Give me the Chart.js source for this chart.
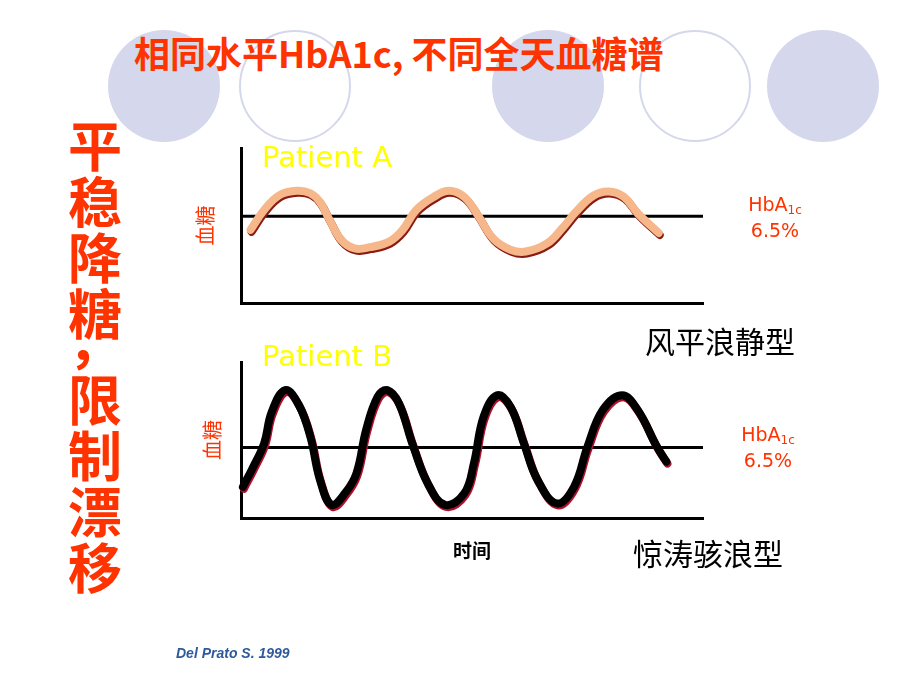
<!DOCTYPE html>
<html>
<head>
<meta charset="utf-8">
<script src="https://cdn.jsdelivr.net/npm/chart.js@4.4.1/dist/chart.umd.min.js"></script>
<style>
html, body { margin: 0; padding: 0; background: #fff; }
#page { position: relative; width: 920px; height: 690px; overflow: hidden; background: #fff; font-family: 'Noto Sans CJK SC', sans-serif; }
.dot { position: absolute; top: 30px; width: 112px; height: 112px; border-radius: 50%; box-sizing: border-box; }
.dot.fill { background: #d5d7ec; }
.dot.ring { border: 2px solid #d5d7ec; }
canvas { position: absolute; left: 0; top: 0; }
.txt { position: absolute; white-space: nowrap; line-height: 1; }
.title { left: 134px; top: 34px; font-size: 36px; font-weight: bold; color: #ff3300; }
.side { left: 68px; top: 116px; width: 56px; font-size: 54px; font-weight: bold; color: #ff3300; }
.side div { height: 56px; line-height: 56px; }
.side div.comma { height: 30px; }
.side div.comma span { position: relative; top: -28px; }
.patient { left: 262px; font-family: 'DejaVu Sans', sans-serif; font-size: 29px; color: #ffff00; }
.hba { width: 80px; text-align: center; font-family: 'DejaVu Sans', sans-serif; font-size: 19px; color: #ff3300; }
.hba sub { font-size: 12px; vertical-align: -3px; }
.kind { font-size: 30px; font-weight: normal; color: #000; }
.cite { left: 176px; top: 646px; font-family: 'Liberation Sans', sans-serif; font-size: 14px; font-weight: bold; font-style: italic; color: #2e5a9c; }
</style>
</head>
<body>
<div id="page">
  <div class="dot fill" style="left:108px"></div>
  <div class="dot ring" style="left:239px"></div>
  <div class="dot fill" style="left:492px"></div>
  <div class="dot ring" style="left:639px"></div>
  <div class="dot fill" style="left:767px"></div>

  <div class="txt title">相同水平HbA1c, 不同全天血糖谱</div>
  <div class="txt side">
    <div>平</div><div>稳</div><div>降</div><div>糖</div><div class="comma"><span>，</span></div><div>限</div><div>制</div><div>漂</div><div>移</div>
  </div>

  <canvas id="chartA" width="920" height="690"></canvas>
  <canvas id="chartB" width="920" height="690"></canvas>

  <div class="txt patient" style="top:143px">Patient A</div>
  <div class="txt patient" style="top:342px">Patient B</div>

  <div class="txt hba" style="left:735px; top:195px">HbA<sub>1c</sub></div>
  <div class="txt hba" style="left:735px; top:221px">6.5%</div>
  <div class="txt hba" style="left:728px; top:425px">HbA<sub>1c</sub></div>
  <div class="txt hba" style="left:728px; top:451px">6.5%</div>

  <div class="txt kind" style="left:645px; top:325px">风平浪静型</div>
  <div class="txt kind" style="left:633px; top:537px">惊涛骇浪型</div>

  <div class="txt cite">Del Prato S. 1999</div>
</div>

<script>
// time of day (h) and glucose (mg/dL)
const timeA = [0.5, 1.2, 2.0, 2.9, 3.6, 4.1, 4.6, 5.2, 5.9, 6.7, 7.7, 8.4, 9.1, 10.0, 10.8, 11.6, 12.3, 13.1, 14.0, 14.8, 15.9, 16.7, 17.4, 18.3, 19.1, 19.9, 20.6, 21.7];
const glucoseA = [118, 150, 174, 181, 177, 163, 134, 102, 88, 90, 99, 118, 150, 171, 181, 171, 142, 104, 86, 83, 96, 121, 147, 173, 180, 171, 145, 113];

const timeB = [0.1, 0.6, 1.2, 1.6, 2.3, 3.0, 3.6, 4.1, 4.7, 5.4, 6.0, 6.5, 7.1, 7.6, 8.2, 8.9, 9.7, 10.6, 11.6, 12.1, 12.6, 13.3, 14.0, 14.7, 15.4, 16.4, 17.3, 18.0, 18.8, 19.8, 20.6, 21.6, 22.1];
const glucoseB = [62, 99, 148, 211, 254, 225, 162, 76, 26, 49, 89, 175, 241, 254, 228, 148, 69, 26, 49, 109, 201, 244, 221, 148, 76, 29, 62, 142, 215, 244, 215, 142, 112];

// mean glucose matching HbA1c 6.5%
const hba1cLevel = 140;
const dayHours = [0, 24];

const toPoints = (xs, ys) => xs.map((x, i) => ({ x, y: ys[i] }));

// offset dark edge under the glucose curve
const curveShadow = {
    id: 'curveShadow',
    beforeDatasetDraw(chart, args, opts) {
        if (args.index !== 0) return;
        const ctx = chart.ctx;
        ctx.save();
        ctx.shadowColor = opts.color;
        ctx.shadowOffsetX = 1;
        ctx.shadowOffsetY = 2;
        ctx.shadowBlur = 0;
    },
    afterDatasetDraw(chart, args) {
        if (args.index !== 0) return;
        chart.ctx.restore();
    },
};

const hidden = { display: false, drawTicks: false };
const axisLine = { display: true, color: '#000', width: 3 };

const buildChart = (canvasId, s) => new Chart(document.getElementById(canvasId), {
    type: 'line',
    data: {
        datasets: [
            {
                data: toPoints(s.time, s.glucose),
                borderColor: s.color,
                borderWidth: s.width,
                pointRadius: 0,
                tension: 0.4,
                borderCapStyle: 'round',
                borderJoinStyle: 'round',
                clip: false,
            },
            {
                data: toPoints(dayHours, [hba1cLevel, hba1cLevel]),
                borderColor: '#000',
                borderWidth: 3,
                pointRadius: 0,
                clip: false,
            },
        ],
    },
    options: {
        responsive: false,
        animation: false,
        events: [],
        layout: { padding: s.padding },
        plugins: {
            legend: { display: false },
            tooltip: { enabled: false },
            curveShadow: { color: s.shadow },
        },
        scales: {
            x: {
                type: 'linear', min: 0, max: 24,
                grid: hidden, ticks: { display: false }, border: axisLine,
                title: s.xTitle,
            },
            y: {
                min: 0, max: s.yMax,
                grid: hidden, ticks: { display: false }, border: axisLine,
                title: {
                    display: true, text: '血糖', color: '#ff3300',
                    font: { family: 'Noto Sans CJK SC', size: 20 },
                    padding: { top: 0, bottom: s.yGap },
                },
            },
        },
    },
    plugins: [curveShadow],
});

buildChart('chartA', {
    time: timeA, glucose: glucoseA, color: '#f6b88a', shadow: '#8a1a14', width: 8,
    yMax: 250, yGap: 24,
    padding: { left: 193, top: 148, right: 217, bottom: 387 },
    xTitle: { display: false },
});

buildChart('chartB', {
    time: timeB, glucose: glucoseB, color: '#000', shadow: '#b0102a', width: 8,
    yMax: 310, yGap: 17,
    padding: { left: 200, top: 362, right: 217, bottom: 127.6 },
    xTitle: {
        display: true, text: '时间', color: '#000',
        font: { family: 'Noto Sans CJK SC', size: 19, weight: 'bold' },
        padding: { top: 21.6, bottom: 0 },
    },
});
</script>
</body>
</html>
